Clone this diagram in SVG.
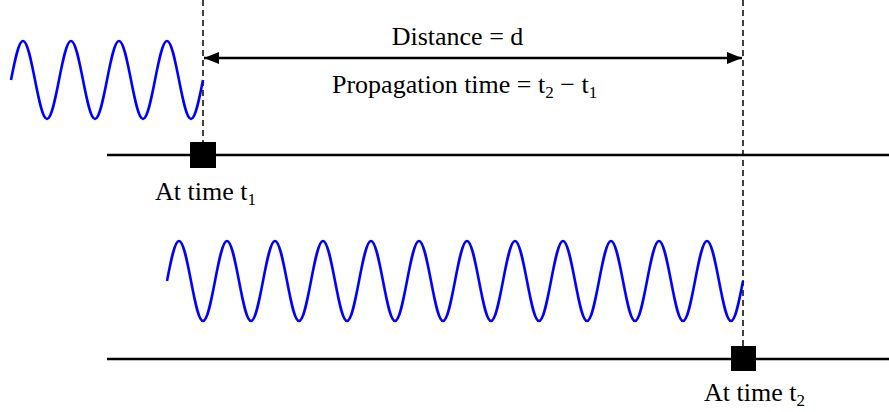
<svg xmlns="http://www.w3.org/2000/svg" width="889" height="412" viewBox="0 0 889 412">
<style>
.wave{fill:none;stroke:#0000ff;stroke-width:2.6;stroke-linejoin:round}
.ground{stroke:#000;stroke-width:2.5}
.dash{stroke:#000;stroke-width:1.5;stroke-dasharray:6,4}
.dim{stroke:#000;stroke-width:2.5}
text{font-family:'Liberation Serif',Tinos,'Times New Roman',Times,'DejaVu Serif',serif;font-size:26px;fill:#000}
.sub{font-size:17px}
.blk{fill:#000}
</style>
<defs>
<marker id="ah" viewBox="0 0 15 12" refX="15" refY="6" markerWidth="15" markerHeight="12" markerUnits="userSpaceOnUse" orient="auto-start-reverse">
<path d="M0,0 L15,6 L0,12 Z" fill="#000"/>
</marker>
</defs>
<g id="connectors">
<line class="dash" x1="203" y1="0" x2="203" y2="142"/>
<line class="dash" x1="743" y1="0" x2="743" y2="346"/>
<line class="dim" x1="204" y1="58" x2="742" y2="58" marker-start="url(#ah)" marker-end="url(#ah)"/>
</g>
<g id="wave1">
<path class="wave" d="M11,80 c4.011,-20.48 7.639,-39 12,-39 s7.989,18.52 12,39 s7.639,39 12,39 s7.989,-18.52 12,-39 s7.639,-39 12,-39 s7.989,18.52 12,39 s7.639,39 12,39 s7.989,-18.52 12,-39 s7.639,-39 12,-39 s7.989,18.52 12,39 s7.639,39 12,39 s7.989,-18.52 12,-39 s7.639,-39 12,-39 s7.989,18.52 12,39 s7.639,39 12,39 s7.989,-18.52 12,-39"/>
</g>
<g id="wave2">
<path class="wave" d="M167,281 c4.011,-21 7.639,-40 12,-40 s7.989,19 12,40 s7.639,40 12,40 s7.989,-19 12,-40 s7.639,-40 12,-40 s7.989,19 12,40 s7.639,40 12,40 s7.989,-19 12,-40 s7.639,-40 12,-40 s7.989,19 12,40 s7.639,40 12,40 s7.989,-19 12,-40 s7.639,-40 12,-40 s7.989,19 12,40 s7.639,40 12,40 s7.989,-19 12,-40 s7.639,-40 12,-40 s7.989,19 12,40 s7.639,40 12,40 s7.989,-19 12,-40 s7.639,-40 12,-40 s7.989,19 12,40 s7.639,40 12,40 s7.989,-19 12,-40 s7.639,-40 12,-40 s7.989,19 12,40 s7.639,40 12,40 s7.989,-19 12,-40 s7.639,-40 12,-40 s7.989,19 12,40 s7.639,40 12,40 s7.989,-19 12,-40 s7.639,-40 12,-40 s7.989,19 12,40 s7.639,40 12,40 s7.989,-19 12,-40 s7.639,-40 12,-40 s7.989,19 12,40 s7.639,40 12,40 s7.989,-19 12,-40 s7.639,-40 12,-40 s7.989,19 12,40 s7.639,40 12,40 s7.989,-19 12,-40 s7.639,-40 12,-40 s7.989,19 12,40 s7.639,40 12,40 s7.989,-19 12,-40"/>
</g>
<g id="line1">
<line class="ground" x1="107" y1="155" x2="889" y2="155"/>
<rect class="blk" x="190" y="142" width="26" height="26"/>
<text x="155" y="200">At time t<tspan class="sub" dy="5">1</tspan></text>
</g>
<g id="line2">
<line class="ground" x1="107" y1="359" x2="889" y2="359"/>
<rect class="blk" x="731" y="346" width="25" height="25"/>
<text x="704" y="401">At time t<tspan class="sub" dy="5">2</tspan></text>
</g>
<g id="labels">
<text x="457.5" y="45" text-anchor="middle">Distance = d</text>
<text x="332" y="93">Propagation time = t<tspan class="sub" dy="5">2</tspan><tspan dy="-5"> − t</tspan><tspan class="sub" dy="5">1</tspan></text>
</g>
</svg>
